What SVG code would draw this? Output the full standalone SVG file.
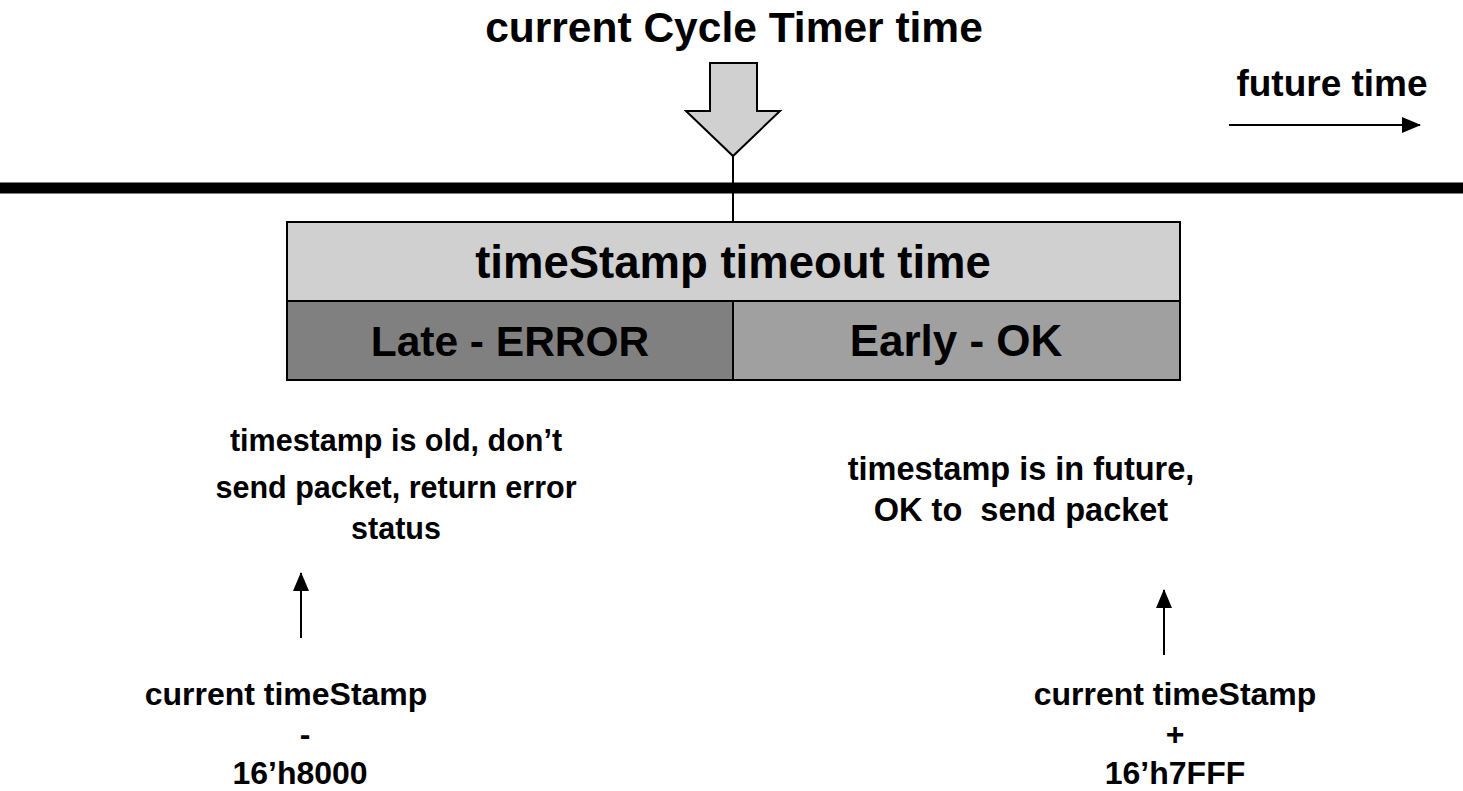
<svg xmlns="http://www.w3.org/2000/svg" width="1463" height="791" viewBox="0 0 1463 791">
<defs>
<marker id="ah" markerWidth="19" markerHeight="16" refX="18" refY="8" orient="auto" markerUnits="userSpaceOnUse" viewBox="0 0 19 16">
<path d="M0,0 L19,8 L0,16 Z" fill="#000"/>
</marker>
<style>
text{font-family:"Liberation Sans",Arial,sans-serif;font-weight:bold;fill:#000;text-anchor:middle}
.h{font-size:42.5px}
.f{font-size:37px}
.l{font-size:30.5px}
.r{font-size:32.5px}
.t{font-size:32px}
.b{font-size:44px}
.ln{stroke:#000;stroke-width:2;fill:none}
.bx{stroke:#000;stroke-width:2}
</style>
</defs>
<rect width="1463" height="791" fill="#fff"/>
<g id="timeline">
<line x1="0" y1="188" x2="1463" y2="188" stroke="#000" stroke-width="11"/>
</g>
<g id="title"><text class="h" x="734" y="42">current Cycle Timer time</text></g>
<g id="cycle-arrow">
<polygon points="710,63 757,63 757,111 780,111 733,156 686,111 710,111" fill="#d0d0d0" stroke="#000" stroke-width="2"/>
</g>
<g id="future"><text class="f" x="1332" y="96">future time</text></g>
<g id="timeout-box">
<rect x="287" y="222" width="893" height="79" fill="#d0d0d0" class="bx"/>
<text class="b" x="733" y="278" style="font-size:45.5px">timeStamp timeout time</text>
</g>
<g id="late">
<rect x="287" y="301" width="446" height="79" fill="#808080" class="bx"/>
<text class="b" x="510" y="356" style="font-size:42.5px">Late - ERROR</text>
</g>
<g id="early">
<rect x="733" y="301" width="447" height="79" fill="#a0a0a0" class="bx"/>
<text class="b" x="956" y="356">Early - OK</text>
</g>
<g id="late-note">
<text class="l" x="396" y="451">timestamp is old, don’t</text>
<text class="l" x="396" y="498">send packet, return error</text>
<text class="l" x="396" y="539">status</text>
</g>
<g id="early-note">
<text class="r" x="1021" y="480">timestamp is in future,</text>
<text class="r" x="1021" y="521" xml:space="preserve">OK to  send packet</text>
</g>
<g id="minus">
<text class="t" x="286" y="705">current timeStamp</text>
<text class="t" x="305" y="745">-</text>
<text class="t" x="300" y="784">16’h8000</text>
</g>
<g id="plus">
<text class="t" x="1175" y="705">current timeStamp</text>
<text class="t" x="1175" y="745">+</text>
<text class="t" x="1175" y="784">16’h7FFF</text>
</g>
<g id="connectors">
<line class="ln" x1="733" y1="156" x2="733" y2="222"/>
<line class="ln" x1="1229" y1="125" x2="1420" y2="125" marker-end="url(#ah)"/>
<line class="ln" x1="301" y1="638" x2="301" y2="573" marker-end="url(#ah)"/>
<line class="ln" x1="1164" y1="655" x2="1164" y2="590" marker-end="url(#ah)"/>
</g>
</svg>
